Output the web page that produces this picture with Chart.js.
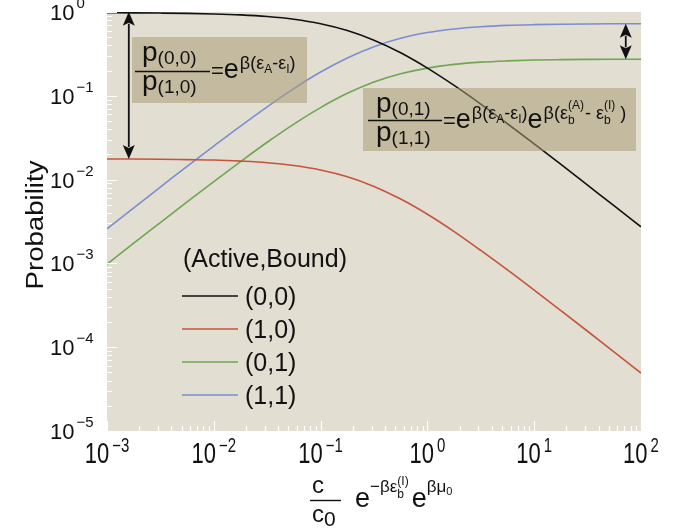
<!DOCTYPE html>
<html>
<head>
<meta charset="utf-8">
<script src="https://cdn.jsdelivr.net/npm/chart.js@4.4.1/dist/chart.umd.min.js"></script>
<style>
  html, body { margin: 0; padding: 0; background: #fff; }
</style>
</head>
<body>
<canvas id="probChart" width="675" height="529"></canvas>
<script>
// concentration c/c0 ... in quarter-decade steps
var concentrations = [0.001, 0.00178, 0.00316, 0.00562, 0.01, 0.0178, 0.0316, 0.0562, 0.1, 0.178, 0.316, 0.562, 1, 1.78, 3.16, 5.62, 10, 17.8, 31.6, 56.2, 100];

// state probabilities (Active,Bound)
var p00 = [0.979, 0.976, 0.971, 0.963, 0.948, 0.923, 0.882, 0.818, 0.723, 0.600, 0.460, 0.326, 0.214, 0.133, 0.0796, 0.0464, 0.0267, 0.0152, 0.00859, 0.00485, 0.00273];
var p10 = [0.0176, 0.0176, 0.0175, 0.0173, 0.0171, 0.0166, 0.0159, 0.0147, 0.0130, 0.0108, 0.00829, 0.00586, 0.00386, 0.00240, 0.00143, 0.000836, 0.000480, 0.000273, 0.000155, 0.0000873, 0.0000492];
var p01 = [0.000979, 0.00174, 0.00307, 0.00542, 0.00948, 0.0164, 0.0279, 0.0460, 0.0723, 0.107, 0.146, 0.183, 0.214, 0.237, 0.252, 0.261, 0.267, 0.270, 0.272, 0.273, 0.273];
var p11 = [0.00259, 0.00460, 0.00814, 0.0144, 0.0251, 0.0435, 0.0739, 0.122, 0.192, 0.283, 0.386, 0.486, 0.568, 0.628, 0.667, 0.692, 0.706, 0.715, 0.720, 0.723, 0.724];

var seriesLabels = ['(0,0)', '(1,0)', '(0,1)', '(1,1)'];
var seriesColors = ['#111111', '#c6543b', '#70a552', '#7b8ed0'];
var legendTitle = '(Active,Bound)';

var xTickExponents = [-3, -2, -1, 0, 1, 2];
var yTickExponents = [0, -1, -2, -3, -4, -5];

var FONT = '"Liberation Sans", Arial, Helvetica, sans-serif';
var PLOT_BG = '#e2ded2';
var BOX_FILL = 'rgba(172,156,116,0.55)';

function toPoints(ys) {
    return concentrations.map(function(c, i) { return { x: c, y: ys[i] }; });
}

function expText(e) {
    return (e < 0 ? '\u2212' : '') + Math.abs(e);
}

// width of a run list (stacked runs share one slot)
function measureRuns(ctx, runs) {
    var w = 0, held = 0;
    runs.forEach(function(r) {
        ctx.font = r.s + 'px ' + FONT;
        var rw = ctx.measureText(r.t).width;
        if (r.keep) { held = Math.max(held, rw); return; }
        w += Math.max(held, rw) + (r.dx || 0);
        held = 0;
    });
    return w + held;
}

// draws text runs left to right from (x, y) baseline, sy stretches vertically
function drawRuns(ctx, x, y, runs, sy) {
    sy = sy || 1;
    ctx.save();
    ctx.translate(x, y);
    ctx.scale(1, sy);
    ctx.textAlign = 'left';
    ctx.textBaseline = 'alphabetic';
    var cx = 0, held = 0;
    runs.forEach(function(r) {
        ctx.font = r.s + 'px ' + FONT;
        var rw = ctx.measureText(r.t).width;
        ctx.fillText(r.t, cx + (r.dx || 0), (r.dy || 0) / sy);
        if (r.keep) { held = Math.max(held, rw); return; }
        cx += Math.max(held, rw) + (r.dx || 0);
        held = 0;
    });
    ctx.restore();
    return x + cx;
}

function drawDoubleArrow(ctx, x, y1, y2) {
    var head = 14, half = 6;
    ctx.save();
    ctx.strokeStyle = '#111';
    ctx.fillStyle = '#111';
    ctx.lineWidth = 1.8;
    ctx.beginPath();
    ctx.moveTo(x, y1 + head - 2);
    ctx.lineTo(x, y2 - head + 2);
    ctx.stroke();
    ctx.beginPath();
    ctx.moveTo(x, y1); ctx.lineTo(x - half, y1 + head); ctx.lineTo(x, y1 + head - 3); ctx.lineTo(x + half, y1 + head);
    ctx.closePath(); ctx.fill();
    ctx.beginPath();
    ctx.moveTo(x, y2); ctx.lineTo(x - half, y2 - head); ctx.lineTo(x, y2 - head + 3); ctx.lineTo(x + half, y2 - head);
    ctx.closePath(); ctx.fill();
    ctx.restore();
}

function hLine(ctx, x1, x2, y) {
    ctx.save();
    ctx.strokeStyle = '#111';
    ctx.lineWidth = 1.4;
    ctx.beginPath();
    ctx.moveTo(x1, y); ctx.lineTo(x2, y);
    ctx.stroke();
    ctx.restore();
}

// e^{beta(eps_A - eps_I)} exponent
function activeExp() {
    return [
        { t: '\u03b2(\u03b5', s: 18, dy: -9, dx: 1 },
        { t: 'A', s: 12, dy: -5 },
        { t: '-\u03b5', s: 18, dy: -9 },
        { t: 'I', s: 12, dy: -5 },
        { t: ')', s: 18, dy: -9 }
    ];
}

var plotDecor = {
    id: 'plotDecor',
    beforeDatasetsDraw: function(chart) {
        var ctx = chart.ctx, a = chart.chartArea;
        ctx.save();
        ctx.fillStyle = PLOT_BG;
        ctx.fillRect(a.left, a.top, a.right - a.left, a.bottom - a.top);
        ctx.restore();
    },
    afterDatasetsDraw: function(chart) {
        var ctx = chart.ctx, a = chart.chartArea;
        var xs = chart.scales.x, ys = chart.scales.y;

        // inward white ticks
        ctx.save();
        ctx.strokeStyle = '#ffffff';
        ctx.lineWidth = 1.2;
        ctx.beginPath();
        for (var e = -3; e <= 2; e++) {
            for (var m = 1; m <= 9; m++) {
                var v = m * Math.pow(10, e);
                if (v > 100) break;
                var px = Math.round(xs.getPixelForValue(v)) + 0.5;
                var len = m === 1 ? 10 : 5;
                ctx.moveTo(px, a.bottom); ctx.lineTo(px, a.bottom - len);
            }
        }
        for (var ey = -5; ey <= 0; ey++) {
            for (var my = 1; my <= 9; my++) {
                var vy = my * Math.pow(10, ey);
                if (vy > 1) break;
                var py = Math.round(ys.getPixelForValue(vy)) + 0.5;
                var leny = my === 1 ? 10 : 5;
                ctx.moveTo(a.left, py); ctx.lineTo(a.left + leny, py);
            }
        }
        ctx.stroke();
        ctx.restore();

        ctx.fillStyle = '#111';

        // tick labels
        yTickExponents.forEach(function(e) {
            var ty = ys.getPixelForValue(Math.pow(10, e));
            drawRuns(ctx, 50, ty + 8, [
                { t: '10', s: 22 },
                { t: expText(e), s: 15, dy: -12, dx: 2 }
            ]);
        });
        xTickExponents.forEach(function(e) {
            var tx = xs.getPixelForValue(Math.pow(10, e));
            var runs = [
                { t: '10', s: 22 },
                { t: expText(e), s: 15, dy: -11, dx: 3 }
            ];
            var w = measureRuns(ctx, runs);
            drawRuns(ctx, tx - w / 2, 463, runs, 1.3);
        });

        // y axis title
        ctx.save();
        ctx.translate(43, 225);
        ctx.rotate(-Math.PI / 2);
        ctx.scale(1.2, 1);
        ctx.font = '23px ' + FONT;
        ctx.textAlign = 'center';
        ctx.textBaseline = 'alphabetic';
        ctx.fillText('Probability', 0, 0);
        ctx.restore();

        // x axis title: c/c0 e^{-beta eps_b^(I)} e^{beta mu_0}
        drawRuns(ctx, 312, 493, [{ t: 'c', s: 24 }]);
        hLine(ctx, 310, 341, 500.5);
        drawRuns(ctx, 312, 522, [{ t: 'c', s: 24 }, { t: '0', s: 21, dy: 4 }]);
        drawRuns(ctx, 355, 507, [
            { t: 'e', s: 27 },
            { t: '\u2212\u03b2\u03b5', s: 17, dy: -15 },
            { t: '(I)', s: 12, dy: -22, keep: true },
            { t: 'b', s: 12, dy: -9 },
            { t: 'e', s: 27, dx: 3 },
            { t: '\u03b2\u03bc', s: 17, dy: -15 },
            { t: '0', s: 11, dy: -12 }
        ]);

        // ratio boxes (translucent, lines show through)
        ctx.save();
        ctx.fillStyle = BOX_FILL;
        ctx.fillRect(132, 37, 175, 66);
        ctx.fillRect(363, 88, 273, 63);
        ctx.restore();
        ctx.fillStyle = '#111';

        drawRuns(ctx, 142, 61, [{ t: 'p', s: 28 }, { t: '(0,0)', s: 19, dy: 3 }]);
        hLine(ctx, 135, 210, 71.5);
        drawRuns(ctx, 142, 90, [{ t: 'p', s: 28 }, { t: '(1,0)', s: 19, dy: 3 }]);
        drawRuns(ctx, 211, 78, [{ t: '=', s: 22 }, { t: 'e', s: 27 }].concat(activeExp()));

        drawRuns(ctx, 376, 112, [{ t: 'p', s: 28 }, { t: '(0,1)', s: 19, dy: 3 }]);
        hLine(ctx, 368, 442, 120.5);
        drawRuns(ctx, 376, 141, [{ t: 'p', s: 28 }, { t: '(1,1)', s: 19, dy: 3 }]);
        drawRuns(ctx, 443, 128, [{ t: '=', s: 22 }, { t: 'e', s: 27 }]
            .concat(activeExp())
            .concat([
                { t: 'e', s: 27 },
                { t: '\u03b2(\u03b5', s: 18, dy: -9, dx: 1 },
                { t: '(A)', s: 12, dy: -19, keep: true },
                { t: 'b', s: 12, dy: -4 },
                { t: '- \u03b5', s: 18, dy: -9, dx: 1 },
                { t: '(I)', s: 12, dy: -19, keep: true },
                { t: 'b', s: 12, dy: -4 },
                { t: ' )', s: 18, dy: -9 }
            ]));

        // arrows spanning the gaps between the curves
        var last = concentrations.length - 1;
        drawDoubleArrow(ctx, xs.getPixelForValue(0.0016), ys.getPixelForValue(p00[0]) - 1, ys.getPixelForValue(p10[0]));
        drawDoubleArrow(ctx, xs.getPixelForValue(72), ys.getPixelForValue(p11[last]), ys.getPixelForValue(p01[last]));

        // legend
        ctx.save();
        ctx.fillStyle = '#111';
        ctx.font = '25px ' + FONT;
        ctx.textAlign = 'left';
        ctx.textBaseline = 'middle';
        ctx.fillText(legendTitle, 183, 260);
        chart.data.datasets.forEach(function(ds, i) {
            var ly = 296 + 33 * i;
            ctx.strokeStyle = ds.borderColor;
            ctx.lineWidth = 1.5;
            ctx.beginPath();
            ctx.moveTo(182, ly); ctx.lineTo(238, ly);
            ctx.stroke();
            ctx.fillText(ds.label, 245, ly + 2);
        });
        ctx.restore();
    }
};

var seriesData = [p00, p10, p01, p11];

new Chart(document.getElementById('probChart').getContext('2d'), {
    type: 'line',
    data: {
        datasets: seriesData.map(function(ys, i) {
            return {
                label: seriesLabels[i],
                data: toPoints(ys),
                borderColor: seriesColors[i],
                borderWidth: 1.6,
                pointRadius: 0,
                fill: false,
                cubicInterpolationMode: 'monotone'
            };
        })
    },
    options: {
        responsive: false,
        animation: false,
        devicePixelRatio: 1,
        layout: { padding: { left: 107, right: 34, top: 12, bottom: 98 } },
        plugins: {
            legend: { display: false },
            tooltip: { enabled: false }
        },
        scales: {
            x: { type: 'logarithmic', min: 0.001, max: 100, display: false },
            y: { type: 'logarithmic', min: 0.00001, max: 1, display: false }
        }
    },
    plugins: [plotDecor]
});
</script>
</body>
</html>
